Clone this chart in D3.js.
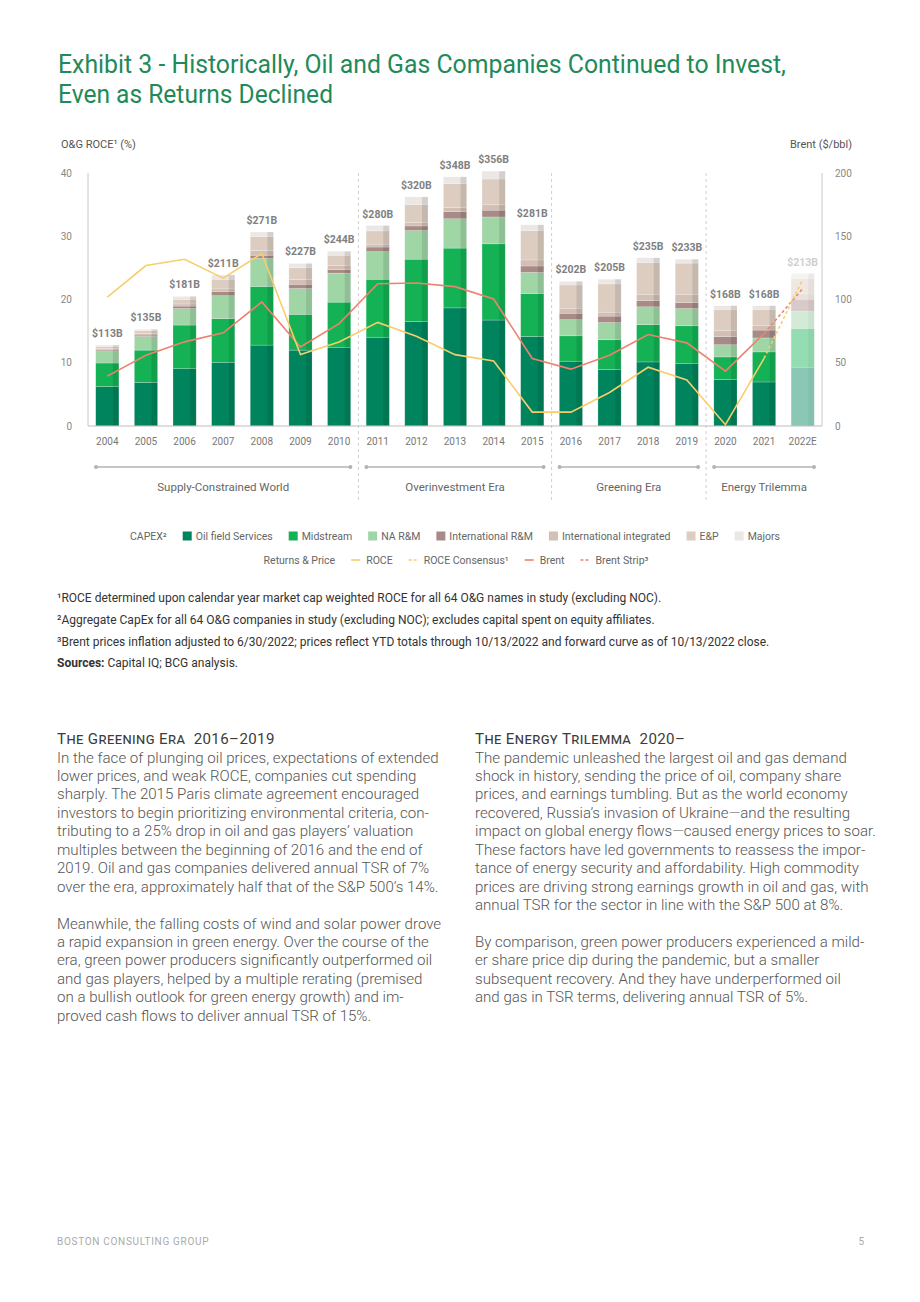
<!DOCTYPE html>
<html>
<head>
<meta charset="utf-8">
<script src="https://cdn.jsdelivr.net/npm/d3@7"></script>
<style>
body { margin: 0; background: #fff; }
svg text { font-family: Roboto, sans-serif; }
</style>
</head>
<body>
<svg id="page" width="920" height="1302"></svg>
<script>
const years = ["2004","2005","2006","2007","2008","2009","2010","2011","2012","2013","2014","2015","2016","2017","2018","2019","2020","2021","2022E"];
const segments = ["Oil field Services","Midstream","NA R&M","International R&M","International integrated","E&P","Majors"];
const oilfieldServices = [55,61,80,89,113,106,110,124,146,165,148,125,90.5,79,89.5,87,65,61.5,82];
const midstream        = [33,45,61,61,82,50,63,81,87,83.5,106.5,60,35.5,41.5,52,53,31.5,42,54];
const naRM             = [17,19,23,32,39,36,40.5,38.5,40,41,37.5,29.5,22.5,24,25,24,17,19.5,24.5];
const intlRM           = [1.5,2,3.5,6,4.5,6,5,6.5,6.5,10,9.5,9,9,9,8.5,8.5,11.5,11,16.5];
const intlIntegrated   = [1.5,2,3,3.5,6.5,6.5,5.5,4,5,6,7.5,8.5,7,5.5,9,11.5,8,6,8];
const eAndP            = [3,4,6.5,13.5,19.5,16.5,14.5,18.5,25,33,36,41,32.5,39.5,44,43.5,30,23,21];
const majors           = [2,2,4,6,6.5,6,5.5,7.5,10.5,9.5,11,8,5,6.5,7,5.5,5,5,7];
const capexTotals      = [113,135,181,211,271,227,244,280,320,348,356,281,202,205,235,233,168,168,213];

const roce          = [20.4,25.4,26.4,23.4,27.3,11.3,13.3,16.4,14.2,11.3,10.3,2.2,2.2,5.3,9.3,7.3,0.2,10.7];
const roceConsensus = [10.7,23.2];          // 2021 -> 2022E
const brent         = [39.5,56,66.6,73.7,98.2,62.6,81,112.6,113.2,110.3,100.5,53.4,45,56,72.4,65.8,43.4,73.2];
const brentStrip    = [73.2,108.7];          // 2021 -> 2022E

const leftTicks  = [0,10,20,30,40];
const rightTicks = [0,50,100,150,200];

const eras = [
  {name: "Supply-Constrained World", from: "2004", to: "2010"},
  {name: "Overinvestment Era", from: "2011", to: "2015"},
  {name: "Greening Era", from: "2016", to: "2019"},
  {name: "Energy Trilemma", from: "2020", to: "2022E"}
];

const colors = ["#00845d","#15b255","#a0d5a6","#a78b86","#d3bfb4","#dccdc0","#ebe7e4"];

// ---- page ----
const svg = d3.select("#page");

// Title
const titleLines = [
  {t: "Exhibit 3 - Historically, Oil and Gas Companies Continued to Invest,", w: 728},
  {t: "Even as Returns Declined", w: 275}
];
svg.append("g").selectAll("text")
  .data(titleLines)
  .enter().append("text")
  .attr("x", 58)
  .attr("y", (d, i) => 73 + i * 30)
  .attr("font-size", 25)
  .attr("fill", "#1f8a5a")
  .attr("textLength", d => d.w)
  .attr("lengthAdjust", "spacingAndGlyphs")
  .text(d => d.t);

// Chart scales
const x = d3.scaleBand().domain(years).range([88, 822]).paddingInner(0.4).paddingOuter(0.2);
const yL = d3.scaleLinear().domain([0, 40]).range([426, 173.3]);
const yR = d3.scaleLinear().domain([0, 200]).range([426, 173.3]);
const yC = d3.scaleLinear().domain([0, 353]).range([426, 173.3]);
const cx = d => x(d) + x.bandwidth() / 2;

const chart = svg.append("g");

// axis titles
chart.append("text").attr("x", 61).attr("y", 148).attr("font-size", 11).attr("fill", "#555").text("O&G ROCE¹ (%)");
chart.append("text").attr("x", 852).attr("y", 148).attr("font-size", 11).attr("fill", "#555")
  .attr("text-anchor", "end").text("Brent ($/bbl)");

// era separators
const sepYears = ["2011", "2016", "2020"];
chart.append("g").selectAll("line")
  .data(sepYears)
  .enter().append("line")
  .attr("x1", d => x(d) - x.step() * x.paddingInner() / 2)
  .attr("x2", d => x(d) - x.step() * x.paddingInner() / 2)
  .attr("y1", 173)
  .attr("y2", 501)
  .attr("stroke", "#cfcfcf")
  .attr("stroke-dasharray", "3,3");

// stacked bars
const table = years.map((yr, i) => ({
  year: yr,
  "Oil field Services": oilfieldServices[i],
  "Midstream": midstream[i],
  "NA R&M": naRM[i],
  "International R&M": intlRM[i],
  "International integrated": intlIntegrated[i],
  "E&P": eAndP[i],
  "Majors": majors[i]
}));
const stacked = d3.stack().keys(segments)(table);

const barsG = chart.append("g");
stacked.forEach((layer, k) => {
  barsG.append("g")
    .selectAll("rect")
    .data(layer)
    .enter().append("rect")
    .attr("x", d => x(d.data.year))
    .attr("width", x.bandwidth())
    .attr("y", d => yC(d[1]))
    .attr("height", d => yC(d[0]) - yC(d[1]))
    .attr("fill", colors[k])
    .attr("opacity", d => d.data.year === "2022E" ? 0.45 : 1)
    .attr("stroke", "#fff")
    .attr("stroke-opacity", 0.35)
    .attr("stroke-width", 0.6);
});

// right-edge shading on each bar
barsG.append("g").selectAll("rect")
  .data(years)
  .enter().append("rect")
  .attr("x", d => x(d) + x.bandwidth() * 0.74)
  .attr("width", x.bandwidth() * 0.26)
  .attr("y", (d, i) => yC(capexTotals[i]))
  .attr("height", (d, i) => yC(0) - yC(capexTotals[i]))
  .attr("fill", "#000")
  .attr("opacity", d => d === "2022E" ? 0.04 : 0.1);

// bar labels
chart.append("g").selectAll("text")
  .data(years)
  .enter().append("text")
  .attr("x", cx)
  .attr("y", (d, i) => yC(capexTotals[i]) - 8)
  .attr("text-anchor", "middle")
  .attr("font-size", 10.5)
  .attr("font-weight", 700)
  .attr("fill", d => d === "2022E" ? "#cfcfcf" : "#7f7f7f")
  .text((d, i) => "$" + capexTotals[i] + "B");

// axes lines
chart.append("line").attr("x1", 88).attr("x2", 88).attr("y1", 173).attr("y2", 426).attr("stroke", "#c8c8c8");
chart.append("line").attr("x1", 822).attr("x2", 822).attr("y1", 173).attr("y2", 426).attr("stroke", "#c8c8c8");
chart.append("line").attr("x1", 88).attr("x2", 822).attr("y1", 426).attr("y2", 426).attr("stroke", "#bdbdbd");

// tick labels
chart.append("g").selectAll("text")
  .data(leftTicks)
  .enter().append("text")
  .attr("x", 72).attr("y", d => yL(d) + 3.5)
  .attr("text-anchor", "end").attr("font-size", 10).attr("fill", "#888")
  .text(d => d);
chart.append("g").selectAll("text")
  .data(rightTicks)
  .enter().append("text")
  .attr("x", 835).attr("y", d => yR(d) + 3.5)
  .attr("font-size", 10).attr("fill", "#888")
  .text(d => d);
chart.append("g").selectAll("text")
  .data(years)
  .enter().append("text")
  .attr("x", cx).attr("y", 445)
  .attr("text-anchor", "middle").attr("font-size", 10).attr("fill", "#777")
  .text(d => d);

// lines
const roceColor = "#f8cd6c", brentColor = "#ee826e";
const lineL = d3.line().x(d => cx(d.year)).y(d => yL(d.v));
const lineR = d3.line().x(d => cx(d.year)).y(d => yR(d.v));
chart.append("path")
  .attr("d", lineR(brent.map((v, i) => ({year: years[i], v}))))
  .attr("fill", "none").attr("stroke", brentColor).attr("stroke-width", 1.6);
chart.append("path")
  .attr("d", lineR(brentStrip.map((v, i) => ({year: years[17 + i], v}))))
  .attr("fill", "none").attr("stroke", brentColor).attr("stroke-width", 1.6).attr("stroke-dasharray", "3,2.5");
chart.append("path")
  .attr("d", lineL(roce.map((v, i) => ({year: years[i], v}))))
  .attr("fill", "none").attr("stroke", roceColor).attr("stroke-width", 1.6);
chart.append("path")
  .attr("d", lineL(roceConsensus.map((v, i) => ({year: years[17 + i], v}))))
  .attr("fill", "none").attr("stroke", roceColor).attr("stroke-width", 1.6).attr("stroke-dasharray", "3,2.5");

// era brackets
const eraG = chart.append("g").selectAll("g").data(eras).enter().append("g");
const eraX1 = d => x(d.from) - x.step() * x.paddingInner() / 2 + 8;
const eraX2 = d => x(d.to) + x.bandwidth() + x.step() * x.paddingInner() / 2 - 8;
eraG.append("line")
  .attr("x1", eraX1).attr("x2", eraX2).attr("y1", 467).attr("y2", 467)
  .attr("stroke", "#b3b3b3").attr("stroke-width", 1.5);
eraG.append("circle").attr("cx", eraX1).attr("cy", 467).attr("r", 2).attr("fill", "#b3b3b3");
eraG.append("circle").attr("cx", eraX2).attr("cy", 467).attr("r", 2).attr("fill", "#b3b3b3");
eraG.append("text")
  .attr("x", d => (eraX1(d) + eraX2(d)) / 2).attr("y", 491)
  .attr("text-anchor", "middle").attr("font-size", 11.5).attr("fill", "#666")
  .text(d => d.name);

// legend
function legendRow(items, title, y, cxRow) {
  const g = svg.append("g");
  let pos = 0;
  const t = g.append("text").attr("x", 0).attr("y", y + 3.5).attr("font-size", 10.5).attr("fill", "#666").text(title);
  pos = t.node().getComputedTextLength() + 16;
  items.forEach(it => {
    if (it.type === "box") {
      g.append("rect").attr("x", pos).attr("y", y - 4.5).attr("width", 9).attr("height", 9).attr("fill", it.color);
      pos += 13;
    } else {
      g.append("line").attr("x1", pos).attr("x2", pos + 9).attr("y1", y).attr("y2", y)
        .attr("stroke", it.color).attr("stroke-width", 1.6)
        .attr("stroke-dasharray", it.type === "dash" ? "3,2" : null);
      pos += 15;
    }
    const tx = g.append("text").attr("x", pos).attr("y", y + 3.5).attr("font-size", 10.5).attr("fill", "#666").text(it.label);
    pos += tx.node().getComputedTextLength() + 16;
  });
  pos -= 16;
  g.attr("transform", `translate(${cxRow - pos / 2},0)`);
}
legendRow(segments.map((s, i) => ({type: "box", color: colors[i], label: s})), "CAPEX²", 536, 455);
legendRow([
  {type: "line", color: roceColor, label: "ROCE"},
  {type: "dash", color: roceColor, label: "ROCE Consensus¹"},
  {type: "line", color: brentColor, label: "Brent"},
  {type: "dash", color: brentColor, label: "Brent Strip³"}
], "Returns & Price", 560, 456);

// footnotes
const notes = [
  "¹ROCE determined upon calendar year market cap weighted ROCE for all 64 O&G names in study (excluding NOC).",
  "²Aggregate CapEx for all 64 O&G companies in study (excluding NOC); excludes capital spent on equity affiliates.",
  "³Brent prices inflation adjusted to 6/30/2022; prices reflect YTD totals through 10/13/2022 and forward curve as of 10/13/2022 close."
];
svg.append("g").selectAll("text")
  .data(notes)
  .enter().append("text")
  .attr("x", 57).attr("y", (d, i) => 602 + i * 22)
  .attr("font-size", 12).attr("fill", "#333")
  .text(d => d);
const src = svg.append("text").attr("x", 57).attr("y", 667).attr("font-size", 12).attr("fill", "#333");
src.append("tspan").attr("font-weight", 700).text("Sources:");
src.append("tspan").text(" Capital IQ; BCG analysis.");

// body text
const leftHead = "The Greening Era\u00a0\u00a02016–2019";
const leftBody = [
  "In the face of plunging oil prices, expectations of extended",
  "lower prices, and weak ROCE, companies cut spending",
  "sharply. The 2015 Paris climate agreement encouraged",
  "investors to begin prioritizing environmental criteria, con-",
  "tributing to a 25% drop in oil and gas players’ valuation",
  "multiples between the beginning of 2016 and the end of",
  "2019. Oil and gas companies delivered annual TSR of 7%",
  "over the era, approximately half that of the S&P 500’s 14%.",
  "",
  "Meanwhile, the falling costs of wind and solar power drove",
  "a rapid expansion in green energy. Over the course of the",
  "era, green power producers significantly outperformed oil",
  "and gas players, helped by a multiple rerating (premised",
  "on a bullish outlook for green energy growth) and im-",
  "proved cash flows to deliver annual TSR of 15%."
];
const rightHead = "The Energy Trilemma\u00a0\u00a02020–";
const rightBody = [
  "The pandemic unleashed the largest oil and gas demand",
  "shock in history, sending the price of oil, company share",
  "prices, and earnings tumbling. But as the world economy",
  "recovered, Russia’s invasion of Ukraine—and the resulting",
  "impact on global energy flows—caused energy prices to soar.",
  "These factors have led governments to reassess the impor-",
  "tance of energy security and affordability. High commodity",
  "prices are driving strong earnings growth in oil and gas, with",
  "annual TSR for the sector in line with the S&P 500 at 8%.",
  "",
  "By comparison, green power producers experienced a mild-",
  "er share price dip during the pandemic, but a smaller",
  "subsequent recovery. And they have underperformed oil",
  "and gas in TSR terms, delivering annual TSR of 5%."
];

// fit body font size to the measured width of the first line
const probe = svg.append("text").attr("font-family", "'Open Sans', sans-serif").attr("font-weight", 300)
  .attr("font-size", 14).text(leftBody[0]);
const bodySize = 14 * 382 / probe.node().getComputedTextLength();
probe.remove();

function column(x0, head, lines) {
  const g = svg.append("g");
  g.append("text").attr("x", x0).attr("y", 744)
    .attr("font-family", "'Open Sans', sans-serif").attr("font-size", bodySize)
    .style("font-variant", "small-caps").attr("letter-spacing", 0.4)
    .attr("fill", "#3c3c3c").text(head);
  g.selectAll("text.body").data(lines).enter().append("text")
    .attr("class", "body")
    .attr("x", x0).attr("y", (d, i) => 762.5 + i * 18.45)
    .attr("font-family", "'Open Sans', sans-serif").attr("font-weight", 300)
    .attr("font-size", bodySize)
    .attr("fill", "#555").text(d => d);
}
column(57, leftHead, leftBody);
column(475, rightHead, rightBody);

// footer
svg.append("text").attr("x", 57).attr("y", 1245).attr("font-size", 10).attr("fill", "#aaa")
  .attr("letter-spacing", 0.7).text("BOSTON CONSULTING GROUP");
svg.append("text").attr("x", 864).attr("y", 1245).attr("font-size", 10).attr("fill", "#aaa")
  .attr("text-anchor", "end").text("5");
</script>
</body>
</html>
